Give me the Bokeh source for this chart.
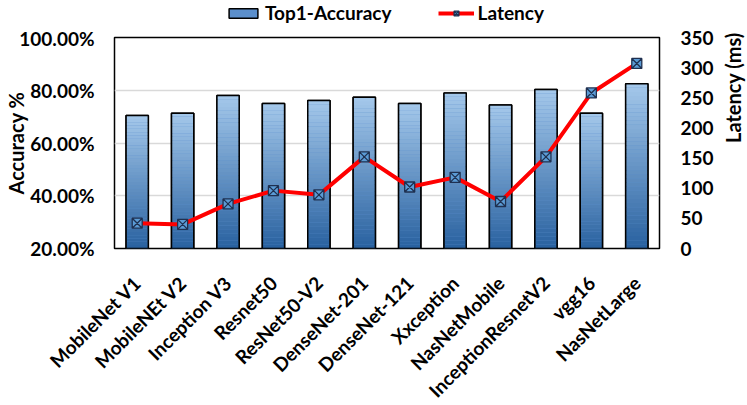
import math
from bokeh.plotting import figure
from bokeh.layouts import column
from bokeh.models import (Range1d, LinearAxis, FixedTicker, PrintfTickFormatter,
                          Legend, LegendItem)
from bokeh.embed import file_html
from bokeh.resources import INLINE

models = ["MobileNet V1", "MobileNEt V2", "Inception V3", "Resnet50", "ResNet50-V2",
          "DenseNet-201", "DenseNet-121", "Xxception", "NasNetMobile",
          "InceptionResnetV2", "vgg16", "NasNetLarge"]
accuracy = [70.4, 71.3, 78.0, 75.0, 76.1, 77.3, 75.0, 79.0, 74.4, 80.3, 71.3, 82.5]
latency = [42, 40, 74, 96, 89, 152, 102, 118, 78, 152, 258, 307]

acc_ticks = [20, 40, 60, 80, 100]
lat_ticks = [0, 50, 100, 150, 200, 250, 300, 350]

FONT = "Lato"
TOP_COL = (163, 199, 234)
BOT_COL = (42, 98, 160)
BAR_STYLE = dict(fill_color="#5b8fcc", line_color="black", line_width=1.5)
LINE_STYLE = dict(line_color="#ff0000", line_width=4)
MARK_STYLE = dict(marker="square_x", size=10, fill_color="#5b9bd5",
                  line_color="#1f3050", line_width=1.3)
BG = "white"

W = 745
LEG_H = 26

# ---------------- main chart ----------------
p = figure(x_range=models, y_range=Range1d(20, 100), frame_width=545, frame_height=211,
           output_backend="svg", toolbar_location=None,
           min_border_left=114, min_border_right=86, min_border_top=11, min_border_bottom=156)
p.extra_y_ranges = {"lat": Range1d(0, 350)}
p.background_fill_color = BG
p.border_fill_color = BG
p.outline_line_color = "black"
p.outline_line_width = 1.5

BAR_W = 0.49
p.vbar(x=models, top=accuracy, bottom=20, width=BAR_W, **BAR_STYLE)

N = 40
xs, bots, tops, cols = [], [], [], []
for m, a in zip(models, accuracy):
    h = (a - 20) / N
    for i in range(N):
        t = i / (N - 1)
        c = tuple(int(round(BOT_COL[k] + (TOP_COL[k] - BOT_COL[k]) * t)) for k in range(3))
        xs.append(m)
        bots.append(20 + i * h)
        tops.append(20 + (i + 1) * h + 0.02)
        cols.append("#%02x%02x%02x" % c)
p.vbar(x=xs, bottom=bots, top=tops, width=BAR_W, fill_color=cols, line_color=None)
p.vbar(x=models, top=accuracy, bottom=20, width=BAR_W,
       fill_color=None, line_color="black", line_width=1.5)

p.line(models, latency, y_range_name="lat", **LINE_STYLE)
p.scatter(models, latency, y_range_name="lat", **MARK_STYLE)

p.yaxis.ticker = FixedTicker(ticks=acc_ticks)
p.yaxis.formatter = PrintfTickFormatter(format="%.2f%%")
p.yaxis.axis_label = "Accuracy %"

ra = LinearAxis(y_range_name="lat", ticker=FixedTicker(ticks=lat_ticks),
                axis_label="Latency (ms)")
p.add_layout(ra, "right")

for ax in [p.yaxis[0], ra, p.xaxis[0]]:
    ax.axis_line_color = None
    ax.major_tick_line_color = None
    ax.minor_tick_line_color = None
    ax.major_tick_in = 0
    ax.major_tick_out = 0
    ax.minor_tick_in = 0
    ax.minor_tick_out = 0
    ax.major_label_text_font = FONT
    ax.major_label_text_font_style = "bold"
    ax.major_label_text_color = "black"
    ax.axis_label_text_font = FONT
    ax.axis_label_text_font_style = "bold"
    ax.axis_label_text_color = "black"
    ax.axis_label_text_font_size = "20px"

ly = p.yaxis[0]
ly.major_label_text_font_size = "19px"
ly.major_label_standoff = 20
ly.axis_label_standoff = -12
ra.major_label_text_font_size = "19px"
ra.major_label_standoff = 21
ra.axis_label_standoff = 16
try:
    ra.axis_label_orientation = math.pi / 2
except Exception:
    pass
p.xaxis.major_label_text_font_size = "19px"
p.xaxis.major_label_orientation = math.pi / 4
p.xaxis.major_label_standoff = 31

p.xgrid.grid_line_color = None
p.ygrid.grid_line_color = "#d9d9d9"
p.ygrid.grid_line_width = 1.5
p.ygrid.ticker = FixedTicker(ticks=acc_ticks)

# ---------------- legend strip ----------------
lg = figure(x_range=Range1d(0, 1), y_range=Range1d(0, 1), frame_width=W, frame_height=LEG_H,
            output_backend="svg", toolbar_location=None, min_border=0)
lg.axis.visible = False
lg.grid.visible = False
lg.outline_line_color = None
lg.background_fill_color = BG
lg.border_fill_color = BG
# legend-only renderers, placed outside the visible range
r_bar = lg.vbar(x=[5], top=[5], bottom=[4], width=0.5, **BAR_STYLE)
r_line = lg.line([5, 6], [5, 5], **LINE_STYLE)
r_mark = lg.scatter([5], [5], **MARK_STYLE)

legend = Legend(items=[LegendItem(label="Top1-Accuracy", renderers=[r_bar]),
                       LegendItem(label="Latency", renderers=[r_line, r_mark])],
                orientation="horizontal", location=(225, 2),
                label_text_font=FONT, label_text_font_style="bold",
                label_text_color="black",
                label_text_font_size="19px", glyph_width=36, glyph_height=12,
                spacing=46, label_standoff=4, padding=0, margin=0,
                border_line_color=None, background_fill_alpha=0)
lg.add_layout(legend, "center")

layout = column(lg, p, spacing=0)
open("out.html", "w").write(file_html(layout, INLINE))
